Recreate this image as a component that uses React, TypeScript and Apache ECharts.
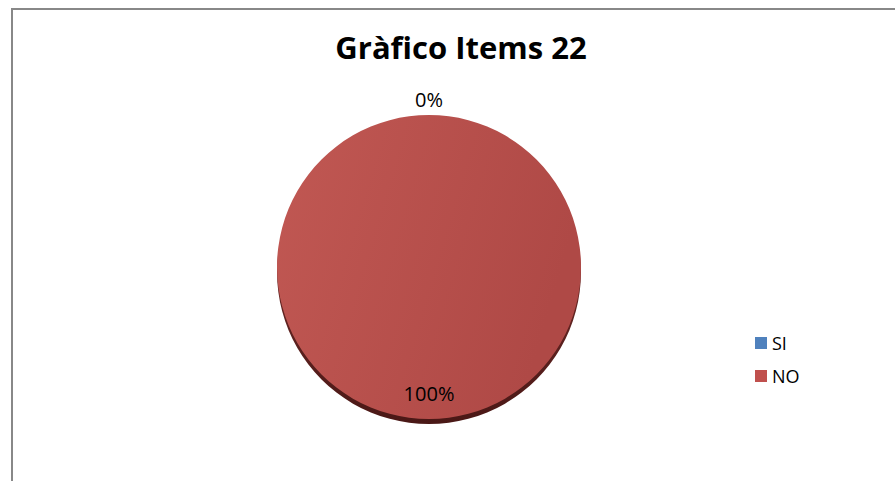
import React, { useEffect, useRef } from "react";
import * as echarts from "echarts";

const TITLE = "Gràfico Items 22";
const categories = ["SI", "NO"];
const values = [0, 100];
const colors = ["#4F81BD", "#C0504D"];

export default function App() {
  const ref = useRef<HTMLDivElement>(null);

  useEffect(() => {
    document.body.style.margin = "0";
    const chart = echarts.init(ref.current!, null, { renderer: "svg" });
    const total = values.reduce((a, b) => a + b, 0);
    const data = categories.map((name, i) => ({ name, value: values[i] }));
    const pct = (v: number) => `${Math.round((v / total) * 100)}%`;
    const font = "'Open Sans', 'Liberation Sans', sans-serif";

    const faceGradient = (i: number) =>
      i === 1
        ? new echarts.graphic.LinearGradient(0, 0, 1, 0.3, [
            { offset: 0, color: "#C15853" },
            { offset: 1, color: "#AF4946" },
          ])
        : colors[i];

    chart.setOption({
      animation: false,
      title: {
        text: TITLE,
        left: 456,
        textAlign: "center",
        top: 26,
        textStyle: { fontFamily: font, fontWeight: "bold", fontSize: 31, color: "#000" },
      },
      legend: {
        orient: "vertical",
        left: 750,
        top: 328,
        itemWidth: 12,
        itemHeight: 12,
        itemGap: 13,
        icon: "rect",
        selectedMode: false,
        textStyle: { fontFamily: font, fontSize: 18, color: "#000", lineHeight: 20 },
        data: categories.map((name, i) => ({ name, itemStyle: { color: colors[i] } })),
      },
      graphic: [
        {
          type: "rect",
          shape: { x: 12, y: 9, width: 1200, height: 1200 },
          style: { fill: "none", stroke: "#888888", lineWidth: 2 },
          silent: true,
        },
      ],
      series: [
        {
          type: "pie",
          name: "depth",
          center: [429, 272],
          radius: 152,
          startAngle: 90,
          silent: true,
          label: { show: false },
          labelLine: { show: false },
          data: data.map((d, i) => ({
            ...d,
            itemStyle: {
              color:
                i === 1
                  ? new echarts.graphic.LinearGradient(0, 0, 0, 1, [
                      { offset: 0, color: "#8A3835" },
                      { offset: 1, color: "#4A1816" },
                    ])
                  : colors[i],
            },
          })),
        },
        {
          type: "pie",
          name: "face",
          center: [429, 267],
          radius: 152,
          startAngle: 90,
          silent: true,
          label: { show: false },
          labelLine: { show: false },
          data: data.map((d, i) => ({ ...d, itemStyle: { color: faceGradient(i) } })),
        },
        {
          type: "pie",
          name: "innerLabels",
          center: [429, 267],
          radius: [98, 148],
          startAngle: 90,
          silent: true,
          itemStyle: { color: "rgba(0,0,0,0)" },
          labelLine: { show: false },
          data: data.map((d, i) => ({
            ...d,
            label: {
              show: i === 1,
              position: "inside",
              formatter: () => pct(d.value),
              fontFamily: font,
              fontSize: 20,
              color: "#000",
            },
          })),
        },
        {
          type: "pie",
          name: "outerLabels",
          center: [429, 267],
          radius: [155, 175],
          startAngle: 90,
          silent: true,
          itemStyle: { color: "rgba(0,0,0,0)" },
          labelLine: { show: false },
          data: data.map((d, i) => ({
            ...d,
            label: {
              show: i === 0,
              position: "inside",
              formatter: () => pct(d.value),
              fontFamily: font,
              fontSize: 20,
              color: "#000",
            },
          })),
        },
      ],
    });
    return () => chart.dispose();
  }, []);

  return <div ref={ref} style={{ width: 895, height: 481 }} />;
}
